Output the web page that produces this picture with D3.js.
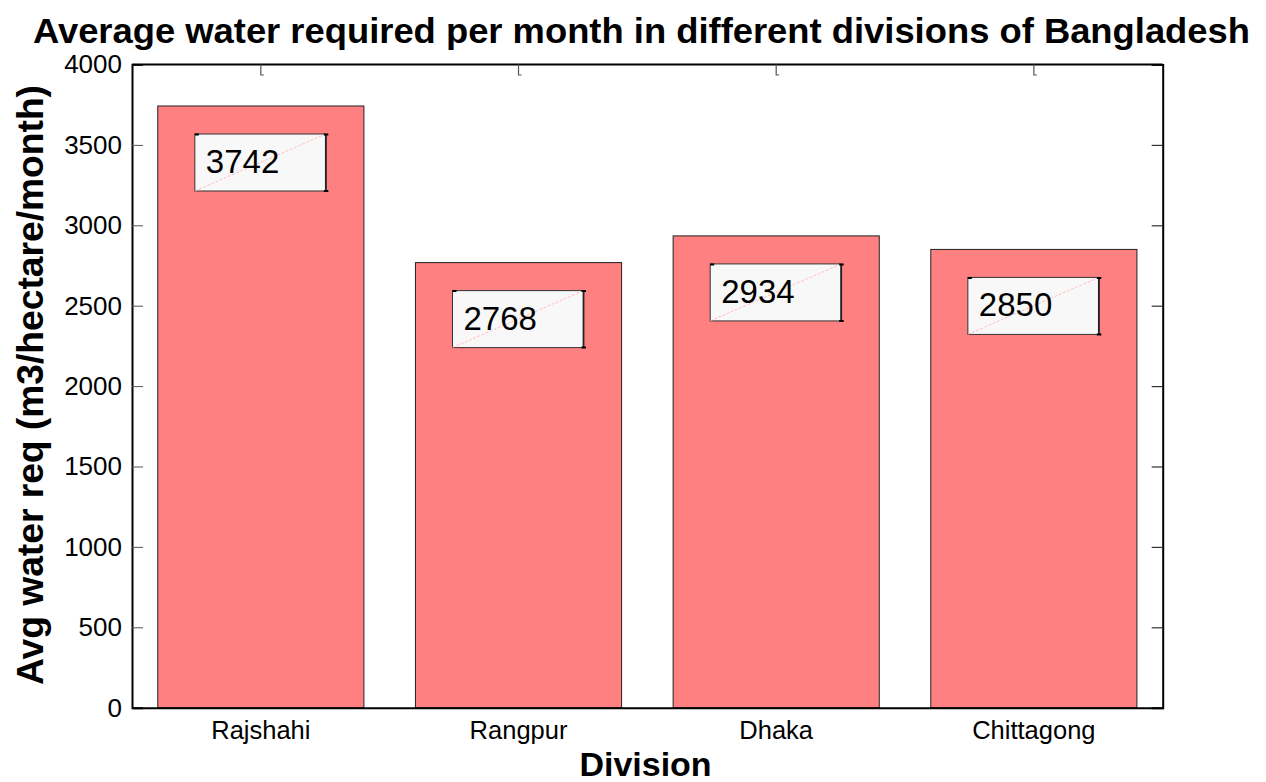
<!DOCTYPE html>
<html>
<head>
<meta charset="utf-8">
<script src="https://cdn.jsdelivr.net/npm/d3@7"></script>
<style>
  html, body { margin: 0; padding: 0; background: #fff; }
  svg { display: block; font-family: Arial, "Liberation Sans", sans-serif; }
</style>
</head>
<body>
<svg id="chart" width="1266" height="782"></svg>
<script>
const categories = ["Rajshahi", "Rangpur", "Dhaka", "Chittagong"];
const values = [3742, 2768, 2934, 2850];
const yTickValues = [0, 500, 1000, 1500, 2000, 2500, 3000, 3500, 4000];
const titleText = "Average water required per month in different divisions of Bangladesh";
const xLabelText = "Division";
const yLabelText = "Avg water req (m3/hectare/month)";

const W = 1266, H = 782;
const margin = { left: 132, right: 103.3, top: 64.5, bottom: 74.3 };
const x0 = margin.left, x1 = W - margin.right, y0 = H - margin.bottom, y1 = margin.top;

const svg = d3.select("#chart");

const x = d3.scaleBand().domain(categories).range([x0, x1]).paddingInner(0.2).paddingOuter(0.1);
const y = d3.scaleLinear().domain([0, 4000]).range([y0, y1]);

// Bars
svg.append("g").selectAll("rect").data(values).join("rect")
  .attr("x", (d, i) => x(categories[i]))
  .attr("y", d => y(d))
  .attr("width", x.bandwidth())
  .attr("height", d => y0 - y(d))
  .attr("fill", "#ff8080")
  .attr("stroke", "#222")
  .attr("stroke-width", 1);

// Left axis
const yAxisL = d3.axisLeft(y).tickValues(yTickValues).tickSize(-11).tickPadding(10).tickFormat(d3.format("d"));
const gL = svg.append("g").attr("transform", `translate(${x0},0)`).call(yAxisL);
gL.select(".domain").attr("stroke", "#000").attr("stroke-width", 2);
gL.selectAll(".tick line").attr("stroke", "#555").attr("stroke-width", 1);
gL.selectAll(".tick text").attr("font-size", 26).attr("font-family", "Arial, 'Liberation Sans', sans-serif").attr("fill", "#000");

// Right axis
const yAxisR = d3.axisRight(y).tickValues(yTickValues).tickSize(-11).tickFormat("");
const gR = svg.append("g").attr("transform", `translate(${x1},0)`).call(yAxisR);
gR.select(".domain").attr("stroke", "#000").attr("stroke-width", 2);
gR.selectAll(".tick line").attr("stroke", "#333").attr("stroke-width", 1.2);

// Bottom axis
const xAxisB = d3.axisBottom(x).tickSize(0).tickPadding(13);
const gB = svg.append("g").attr("transform", `translate(0,${y0})`).call(xAxisB);
gB.select(".domain").attr("stroke", "#000").attr("stroke-width", 2);
gB.selectAll(".tick text").attr("font-size", 25.5).attr("font-family", "Arial, 'Liberation Sans', sans-serif").attr("fill", "#000");

// Top axis line and L-shaped ticks
svg.append("line").attr("x1", x0).attr("x2", x1).attr("y1", y1).attr("y2", y1)
  .attr("stroke", "#000").attr("stroke-width", 2);
svg.append("g").selectAll("path").data(categories).join("path")
  .attr("d", c => {
    const cx = x(c) + x.bandwidth() / 2;
    return `M${cx},${y1} L${cx},${y1 + 10.5} L${cx + 3},${y1 + 10.5}`;
  })
  .attr("fill", "none").attr("stroke", "#555").attr("stroke-width", 1.2);

// Value annotation boxes
const ann = svg.append("g").selectAll("g").data(values).join("g")
  .attr("transform", (d, i) => `translate(${x(categories[i]) + x.bandwidth() / 2 - 66},${y(d) + 28})`);
const bw = 131, bh = 57;
ann.append("rect").attr("width", bw).attr("height", bh)
  .attr("fill", "#f8f8f8").attr("stroke", "#333").attr("stroke-width", 1);
ann.append("line").attr("x1", 0).attr("y1", bh).attr("x2", bw).attr("y2", 0)
  .attr("stroke", "#ffb0b0").attr("stroke-width", 0.8).attr("stroke-dasharray", "3,1.5");
ann.append("line").attr("x1", bw).attr("y1", 0).attr("x2", bw).attr("y2", bh)
  .attr("stroke", "#222").attr("stroke-width", 1.8);
ann.append("path").attr("d", `M0,0.5 L4,0.5 M${bw - 2},0.5 L${bw + 2.5},0.5 M${bw - 2},${bh} L${bw + 2.5},${bh}`)
  .attr("stroke", "#000").attr("stroke-width", 2).attr("fill", "none");
ann.append("text").attr("x", 11).attr("y", 39)
  .attr("font-size", 33).attr("fill", "#000")
  .text(d => d);

// Title
svg.append("text").attr("x", 641.5).attr("y", 43).attr("text-anchor", "middle")
  .attr("font-size", 35).attr("font-weight", "bold").attr("fill", "#000")
  .attr("textLength", 1217).attr("lengthAdjust", "spacingAndGlyphs")
  .text(titleText);

// X label
svg.append("text").attr("x", 645.5).attr("y", 776).attr("text-anchor", "middle")
  .attr("font-size", 34).attr("font-weight", "bold").attr("fill", "#000")
  .text(xLabelText);

// Y label
svg.append("text").attr("transform", "translate(43,385) rotate(-90)").attr("text-anchor", "middle")
  .attr("font-size", 36).attr("font-weight", "bold").attr("fill", "#000")
  .attr("textLength", 600).attr("lengthAdjust", "spacingAndGlyphs")
  .text(yLabelText);
</script>
</body>
</html>
